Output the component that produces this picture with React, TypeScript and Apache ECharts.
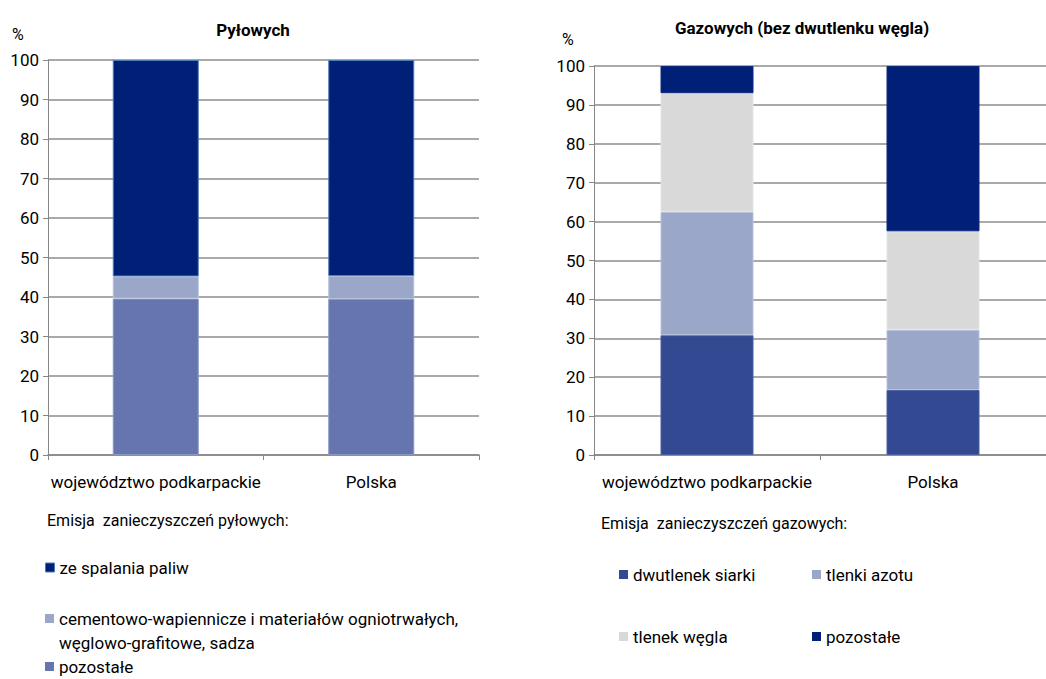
import React, { useEffect, useRef } from "react";
import * as echarts from "echarts";

const categories = ["województwo podkarpackie", "Polska"];

// Pyłowych (dust) – % shares
const dustPozostale = [39.6, 39.5];
const dustCement = [5.6, 5.8];
const dustSpalanie = [54.8, 54.7];

// Gazowych (bez dwutlenku węgla) – % shares
const gasSiarki = [30.8, 16.7];
const gasAzotu = [31.7, 15.5];
const gasWegla = [30.5, 25.3];
const gasPozostale = [7.0, 42.5];

const FONT = "Roboto, 'Liberation Sans', sans-serif";
const C_NAVY = "#001f77";
const C_MID = "#6675ad";
const C_LIGHT = "#9aa7c9";
const C_SO2 = "#334a92";
const C_GREY = "#d9d9d9";

const CEMENT_NAME = "cementowo-wapiennicze i materiałów ogniotrwałych, węglowo-grafitowe, sadza";

export default function App() {
  const ref = useRef<HTMLDivElement>(null);
  useEffect(() => {
    if (!ref.current) return;
    const chart = echarts.init(ref.current, undefined, { renderer: "svg" });

    const yAxisBase = (gridIndex: number) => ({
      type: "value",
      gridIndex,
      min: 0,
      max: 100,
      interval: 10,
      axisLine: { show: true, lineStyle: { color: "#868686", width: 1 } },
      axisTick: { show: true, length: 5, lineStyle: { color: "#868686" } },
      axisLabel: { color: "#000", fontSize: 17, fontFamily: FONT, margin: 9 },
      splitLine: { show: true, lineStyle: { color: "#8c8c8c", width: 1.5 } },
    });
    const xAxisBase = (gridIndex: number) => ({
      type: "category",
      gridIndex,
      data: categories,
      boundaryGap: true,
      axisLine: { show: true, lineStyle: { color: "#868686", width: 1.5 } },
      axisTick: { show: true, length: 5, alignWithLabel: false, lineStyle: { color: "#868686" } },
      axisLabel: { color: "#000", fontSize: 17, fontFamily: FONT, margin: 18, interval: 0 },
    });

    const bar = (name: string, data: number[], idx: number, stack: string, color: string, width: number, border: string) => ({
      type: "bar",
      name,
      data,
      xAxisIndex: idx,
      yAxisIndex: idx,
      stack,
      barWidth: width,
      itemStyle: { color, borderColor: border, borderWidth: 1 },
    });

    const legendItem = (name: string, color: string, left: number, top: number, formatter?: any, border?: string) => ({
      left,
      top,
      padding: 0,
      orient: "horizontal",
      itemWidth: 9,
      itemHeight: 9,
      selectedMode: false,
      icon: "rect",
      data: [{ name, itemStyle: { color, borderColor: border || color, borderWidth: border ? 1 : 0 } }],
      textStyle: { color: "#000", fontSize: 17, fontFamily: FONT },
      formatter,
    });

    chart.setOption({
      animation: false,
      backgroundColor: "#fff",
      title: [
        {
          text: "Pyłowych",
          left: 248,
          textAlign: "center",
          top: 16,
          textStyle: { fontSize: 17, fontWeight: "bold", color: "#000", fontFamily: FONT },
        },
        {
          text: "Gazowych (bez dwutlenku węgla)",
          left: 797,
          textAlign: "center",
          top: 14,
          textStyle: { fontSize: 17, fontWeight: "bold", color: "#000", fontFamily: FONT },
        },
      ],
      grid: [
        { left: 48, top: 60, width: 431, height: 395, containLabel: false },
        { left: 594, top: 66, width: 459, height: 389, containLabel: false },
      ],
      xAxis: [xAxisBase(0), xAxisBase(1)],
      yAxis: [yAxisBase(0), yAxisBase(1)],
      legend: [
        legendItem("ze spalania paliw", C_NAVY, 45, 559, undefined, "#4a7ebb"),
        legendItem(CEMENT_NAME, C_LIGHT, 45, 610, () => "cementowo-wapiennicze i materiałów ogniotrwałych,"),
        legendItem("pozostałe", C_MID, 45, 658),
        legendItem("dwutlenek siarki", C_SO2, 619, 566),
        legendItem("tlenki azotu", C_LIGHT, 812, 566),
        legendItem("tlenek węgla", C_GREY, 619, 628),
        legendItem("pozostałe", C_NAVY, 812, 628),
      ],
      graphic: [
        { type: "text", left: 12, top: 26, style: { text: "%", fontSize: 16, fill: "#000", fontFamily: FONT } },
        { type: "text", left: 562, top: 31, style: { text: "%", fontSize: 16, fill: "#000", fontFamily: FONT } },
        { type: "text", left: 47, top: 512, style: { text: "Emisja  zanieczyszczeń pyłowych:", fontSize: 16, fill: "#000", fontFamily: FONT } },
        { type: "text", left: 59, top: 634, style: { text: "węglowo-grafitowe, sadza", fontSize: 17, fill: "#000", fontFamily: FONT } },
        { type: "text", left: 601, top: 515, style: { text: "Emisja  zanieczyszczeń gazowych:", fontSize: 16, fill: "#000", fontFamily: FONT } },
      ],
      series: [
        bar("pozostałe", dustPozostale, 0, "dust", C_MID, 86, "#8a98c4"),
        bar(CEMENT_NAME, dustCement, 0, "dust", C_LIGHT, 86, "#b7c1dc"),
        bar("ze spalania paliw", dustSpalanie, 0, "dust", C_NAVY, 86, "#4a7ebb"),
        bar("dwutlenek siarki", gasSiarki, 1, "gas", C_SO2, 93, "#4a5fa0"),
        bar("tlenki azotu", gasAzotu, 1, "gas", C_LIGHT, 93, "#b7c1dc"),
        bar("tlenek węgla", gasWegla, 1, "gas", C_GREY, 93, "#e4e4e4"),
        bar("pozostałe", gasPozostale, 1, "gas", C_NAVY, 93, "#0d2a80"),
      ],
    });
    return () => chart.dispose();
  }, []);
  return <div ref={ref} style={{ position: "fixed", left: 0, top: 0, width: 1046, height: 679 }} />;
}
